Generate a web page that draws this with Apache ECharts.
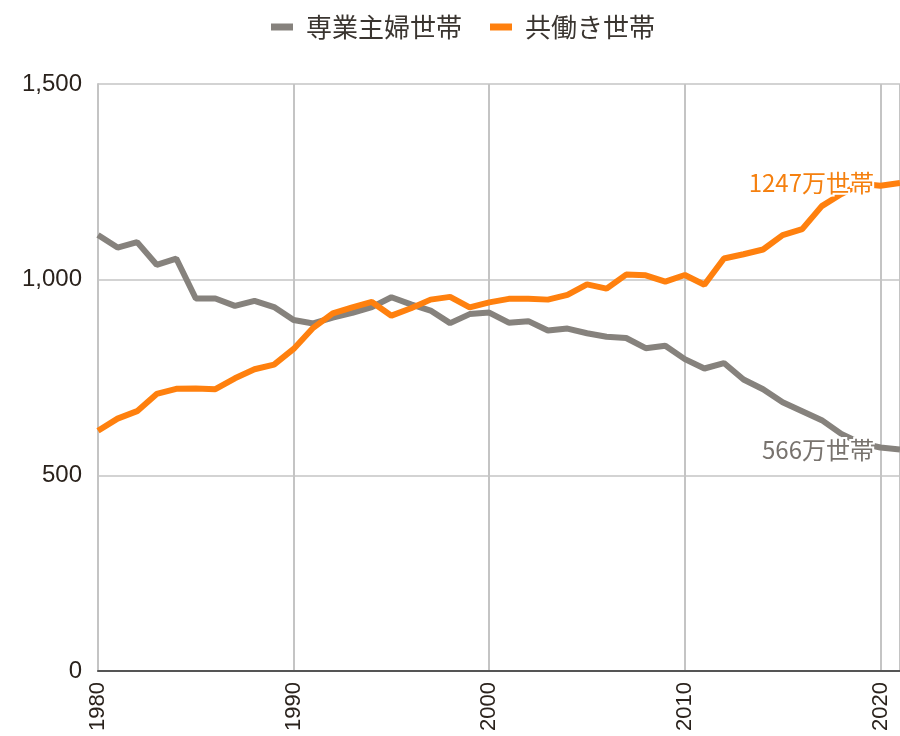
<!DOCTYPE html>
<html><head><meta charset="utf-8">
<script src="https://cdn.jsdelivr.net/npm/echarts@6/dist/echarts.min.js"></script>
<style>html,body{margin:0;padding:0;background:#fff}#c{width:900px;height:736px}</style>
</head><body><div id="c"></div>
<script>
const years = [1980,1981,1982,1983,1984,1985,1986,1987,1988,1989,1990,1991,1992,1993,1994,1995,1996,1997,1998,1999,2000,2001,2002,2003,2004,2005,2006,2007,2008,2009,2010,2011,2012,2013,2014,2015,2016,2017,2018,2019,2020,2021];
const housewife = [1114,1082,1096,1038,1054,952,952,933,946,930,897,888,903,915,930,955,937,921,889,912,916,890,894,870,875,863,854,851,825,831,797,773,787,745,720,687,664,641,606,582,571,566];
const dualIncome = [614,645,664,708,721,722,720,748,771,783,823,877,914,929,943,908,927,949,956,929,942,951,951,949,961,988,977,1013,1011,995,1012,987,1054,1065,1077,1114,1129,1188,1219,1245,1240,1247];
const seriesNames = ['専業主婦世帯','共働き世帯'];
const endLabels = ['566万世帯','1247万世帯'];
const colors = ['#86827d','#ff800e'];
const labelColors = ['#78736e','#f5800f'];

function pairs(vals){ return vals.map((v,k)=>[years[k], v]); }

function mkSeries(i, vals){
  return {name:seriesNames[i], type:'line', data:pairs(vals), showSymbol:false, symbol:'none',
    lineStyle:{width:6, color:colors[i]}, z:2+i,
    endLabel:{show:true, formatter:endLabels[i], align:'right', offset:[-34,0],
      color:labelColors[i], fontSize:24, fontFamily:'Noto Sans CJK JP',
      textBorderColor:'#fff', textBorderWidth:4}};
}

const chart = echarts.init(document.getElementById('c'));
chart.setOption({
  animation:false,
  color: colors,
  legend:{top:9, left:266, itemWidth:22, itemHeight:7, itemGap:28, icon:'rect',
    textStyle:{fontSize:26, color:'#3a3530', fontFamily:'Noto Sans CJK JP', padding:[0,0,0,8]}},
  grid:{left:98, right:-4, top:84, bottom:65},
  xAxis:{type:'value', min:1980, max:2021, interval:10,
    axisLine:{show:true, lineStyle:{color:'#555', width:2}},
    axisTick:{show:false},
    splitLine:{show:true, lineStyle:{color:'#c4c4c4', width:2}},
    axisLabel:{rotate:90, margin:11, fontSize:22, color:'#2a221c', fontFamily:'Liberation Sans', showMaxLabel:false, formatter:v=>String(v)}},
  yAxis:{type:'value', min:0, max:1500, interval:500,
    axisLine:{show:true, lineStyle:{color:'#c4c4c4', width:2}},
    axisTick:{show:false},
    splitLine:{show:true, lineStyle:{color:'#c4c4c4', width:1.5}},
    axisLabel:{margin:16, fontSize:24, color:'#2a221c', fontFamily:'Liberation Sans', formatter:v=>v.toLocaleString('en-US')}},
  series:[ mkSeries(0, housewife), mkSeries(1, dualIncome) ]
});
</script></body></html>
